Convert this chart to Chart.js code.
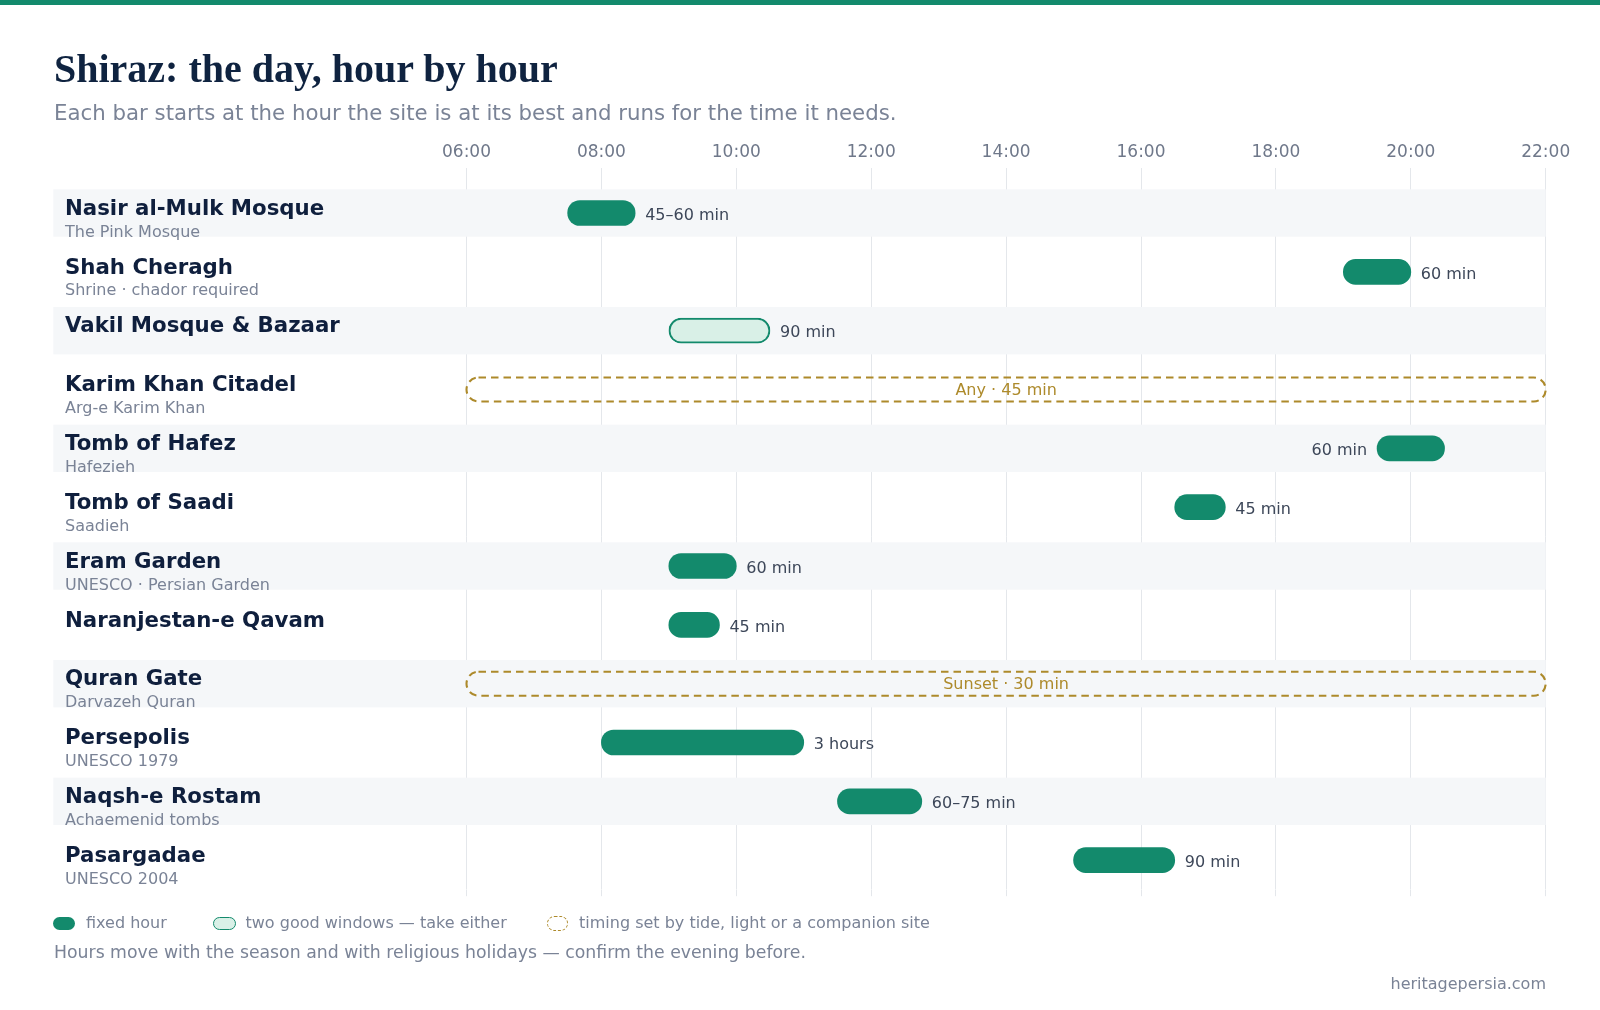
<!DOCTYPE html>
<html><head><meta charset="utf-8">
<script src="https://cdn.jsdelivr.net/npm/chart.js@4.4.1/dist/chart.umd.min.js"></script>
<style>
html,body{margin:0;padding:0;background:#fff;}
body{width:1600px;height:1010px;position:relative;overflow:hidden;font-family:"DejaVu Sans",sans-serif;}
.topbar{position:absolute;left:0;top:0;width:1600px;height:5px;background:#138a6c;}
.t{position:absolute;white-space:nowrap;}
#wrap{position:absolute;left:0;top:0;width:1600px;height:1010px;}
.ico{position:absolute;box-sizing:border-box;}
</style></head><body>
<div class="topbar"></div>
<div id="wrap"><canvas id="c"></canvas></div>
<div class="t" style="left:54px;top:48.6px;font:bold 40px/1 'Liberation Serif',serif;color:#0f2340;">Shiraz: the day, hour by hour</div>
<div class="t" style="left:54px;top:102px;font:21.3px/1 'DejaVu Sans',sans-serif;color:#7a8396;">Each bar starts at the hour the site is at its best and runs for the time it needs.</div>

<div class="ico" style="left:53.4px;top:916.5px;width:22px;height:13.4px;border-radius:6.7px;background:#138a6c;"></div>
<div class="t" style="left:86px;top:914.5px;font:16px/1 'DejaVu Sans',sans-serif;color:#7a8396;">fixed hour</div>
<div class="ico" style="left:213px;top:916.5px;width:22.5px;height:13.4px;border-radius:6.7px;background:#d9f0e7;border:1.6px solid #138a6c;"></div>
<div class="t" style="left:245.5px;top:914.5px;font:16px/1 'DejaVu Sans',sans-serif;color:#7a8396;">two good windows — take either</div>
<div class="ico" style="left:547px;top:915.5px;width:21px;height:15px;border-radius:7.5px;border:1.6px dashed #ad8a2b;"></div>
<div class="t" style="left:579px;top:914.5px;font:16px/1 'DejaVu Sans',sans-serif;color:#7a8396;">timing set by tide, light or a companion site</div>
<div class="t" style="left:54px;top:944.4px;font:17.3px/1 'DejaVu Sans',sans-serif;color:#7a8396;">Hours move with the season and with religious holidays — confirm the evening before.</div>
<div class="t" style="right:54px;top:976px;font:16px/1 'DejaVu Sans',sans-serif;color:#7a8396;">heritagepersia.com</div>

<script>
// ---- data ----
const sites = ["Nasir al-Mulk Mosque","Shah Cheragh","Vakil Mosque & Bazaar","Karim Khan Citadel","Tomb of Hafez","Tomb of Saadi","Eram Garden","Naranjestan-e Qavam","Quran Gate","Persepolis","Naqsh-e Rostam","Pasargadae"];
const siteNotes = ["The Pink Mosque","Shrine · chador required","","Arg-e Karim Khan","Hafezieh","Saadieh","UNESCO · Persian Garden","","Darvazeh Quran","UNESCO 1979","Achaemenid tombs","UNESCO 2004"];
const startHour = [7.5, 19, 9, 6, 19.5, 16.5, 9, 9, 6, 8, 11.5, 15];
const endHour   = [8.5, 20, 10.5, 22, 20.5, 17.25, 10, 9.75, 22, 11, 12.75, 16.5];
const visitKind = ["fixed","fixed","either","flex","fixed","fixed","fixed","fixed","flex","fixed","fixed","fixed"];
const durationLabel = ["45–60 min","60 min","90 min","Any · 45 min","60 min","45 min","60 min","45 min","Sunset · 30 min","3 hours","60–75 min","90 min"];
const hourTicks = [6, 8, 10, 12, 14, 16, 18, 20, 22];
const tickLabels = ["06:00","08:00","10:00","12:00","14:00","16:00","18:00","20:00","22:00"];

// ---- styles ----
const TEAL = "#138a6c", MINT = "#d9f0e7", GOLD = "#ad8a2b", GRID = "#e4e7eb";
const BAND = "#f5f7f9", NAME = "#0f1f3d", NOTE = "#7a8396", VAL = "#3d4759";
const FONT = "'DejaVu Sans', sans-serif";
Chart.defaults.font.family = "DejaVu Sans";

const bandsPlugin = {
  id: 'bands',
  beforeDatasetsDraw(chart) {
    const {ctx, chartArea, scales: {y}} = chart;
    ctx.save();
    ctx.fillStyle = BAND;
    sites.forEach((s, i) => {
      if (i % 2 !== 0) return;
      const yc = y.getPixelForValue(i);
      ctx.fillRect(53.3, yc - 23.7, chartArea.right - 53.3, 47.4);
    });
    ctx.restore();
  }
};

const marksPlugin = {
  id: 'marks',
  afterDatasetsDraw(chart) {
    const {ctx} = chart;
    const meta = chart.getDatasetMeta(0);
    ctx.save();
    meta.data.forEach((el, i) => {
      const p = el.getProps(['x', 'y', 'base'], true);
      const l = Math.min(p.x, p.base), r = Math.max(p.x, p.base);
      ctx.font = "16px " + FONT;
      ctx.textBaseline = 'middle';
      if (visitKind[i] === 'flex') {
        const h = 24, top = p.y - h / 2;
        ctx.beginPath();
        ctx.roundRect(l, top, r - l, h, h / 2);
        ctx.setLineDash([7.5, 5]);
        ctx.lineWidth = 2.1;
        ctx.strokeStyle = GOLD;
        ctx.stroke();
        ctx.setLineDash([]);
        ctx.fillStyle = GOLD;
        ctx.textAlign = 'center';
        ctx.fillText(durationLabel[i], (l + r) / 2, p.y + 1);
      } else {
        ctx.fillStyle = VAL;
        if (endHour[i] > 20.25) {
          ctx.textAlign = 'right';
          ctx.fillText(durationLabel[i], l - 10, p.y + 2.5);
        } else {
          ctx.textAlign = 'left';
          ctx.fillText(durationLabel[i], r + 10, p.y + 2.5);
        }
      }
    });
    ctx.restore();
  },
  afterDraw(chart) {
    const {ctx, scales: {y}} = chart;
    ctx.save();
    ctx.textAlign = 'left';
    ctx.textBaseline = 'alphabetic';
    sites.forEach((s, i) => {
      const yc = y.getPixelForValue(i);
      ctx.font = "bold 21.3px " + FONT;
      ctx.fillStyle = NAME;
      ctx.fillText(s, 65, yc + 1.8);
      if (siteNotes[i]) {
        ctx.font = "16px " + FONT;
        ctx.fillStyle = NOTE;
        ctx.fillText(siteNotes[i], 65, yc + 23.5);
      }
    });
    ctx.restore();
  }
};

new Chart(document.getElementById('c'), {
  type: 'bar',
  data: {
    labels: sites,
    datasets: [{
      data: startHour.map((s, i) => [s, endHour[i]]),
      backgroundColor: visitKind.map(k => k === 'fixed' ? TEAL : k === 'either' ? MINT : 'rgba(0,0,0,0)'),
      borderColor: visitKind.map(k => k === 'either' ? TEAL : 'rgba(0,0,0,0)'),
      borderWidth: visitKind.map(k => k === 'either' ? 2 : 0),
      borderRadius: 13,
      borderSkipped: false,
      barThickness: 25
    }]
  },
  options: {
    indexAxis: 'y',
    responsive: true,
    maintainAspectRatio: false,
    animation: false,
    layout: { padding: { top: 123.6, right: 54.3, bottom: 113.8, left: 0 } },
    plugins: { legend: { display: false }, tooltip: { enabled: false } },
    scales: {
      x: {
        type: 'linear', position: 'top', min: 6, max: 22,
        afterBuildTicks: s => { s.ticks = hourTicks.map(v => ({ value: v })); },
        ticks: {
          padding: 5.5, color: "#6f788a", font: { size: 17, family: "DejaVu Sans" },
          callback: v => tickLabels[hourTicks.indexOf(v)]
        },
        grid: { color: GRID, lineWidth: 1, tickLength: 15.6, drawTicks: true },
        border: { display: false },
        afterFit: s => { s.height = 60; }
      },
      x2: {
        type: 'linear', axis: 'x', position: 'bottom', min: 6, max: 22,
        afterBuildTicks: s => { s.ticks = hourTicks.map(v => ({ value: v })); },
        ticks: { display: false },
        grid: { color: GRID, lineWidth: 1, drawOnChartArea: false, tickLength: 6.6 },
        border: { display: false },
        afterFit: s => { s.height = 6.6; }
      },
      y: {
        type: 'category', position: 'left', offset: true,
        ticks: { display: false },
        grid: { display: false },
        border: { display: false },
        afterFit: s => { s.width = 466.5; }
      }
    }
  },
  plugins: [bandsPlugin, marksPlugin]
});
</script>
</body></html>
